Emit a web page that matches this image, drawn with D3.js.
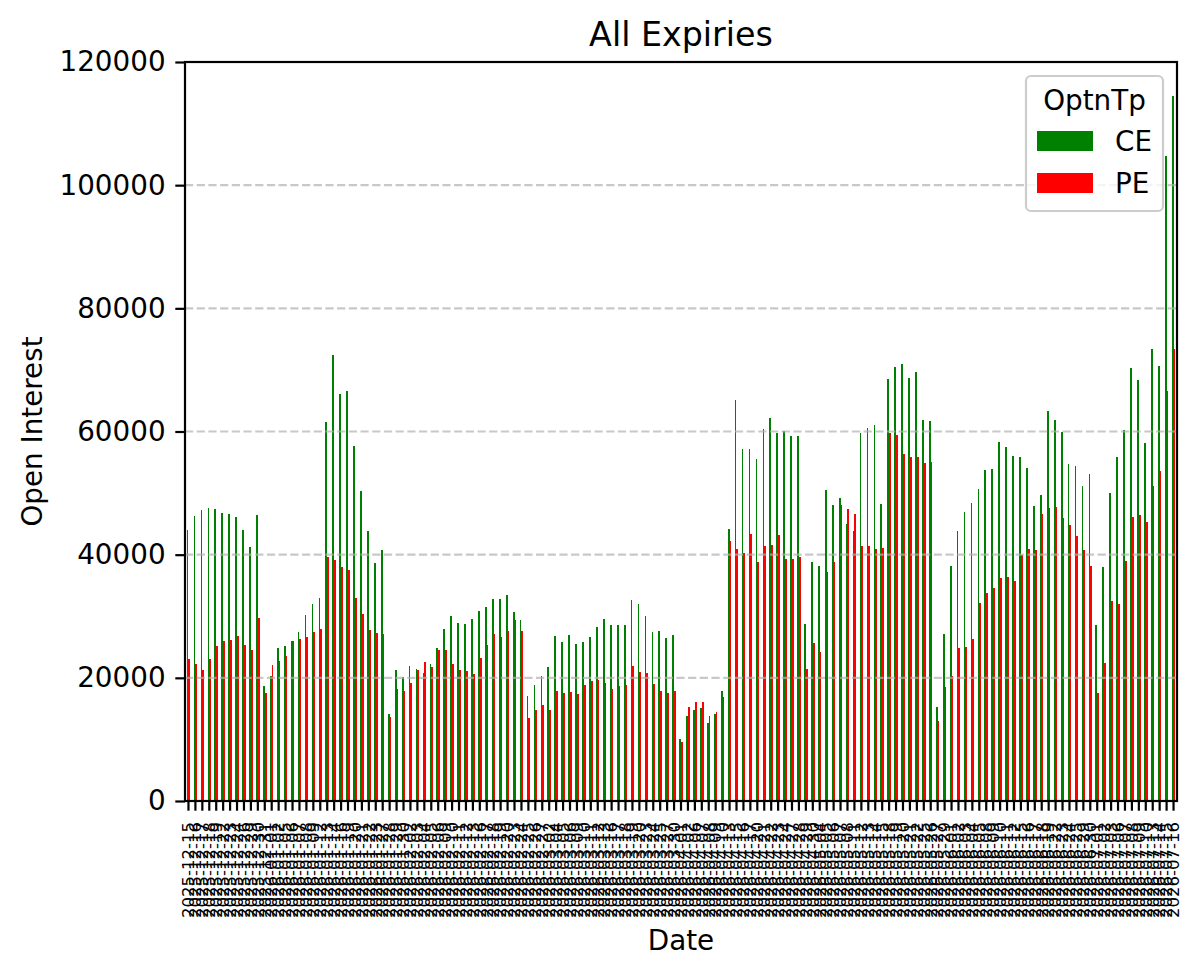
<!DOCTYPE html>
<html><head><meta charset="utf-8">
<script src="https://cdn.jsdelivr.net/npm/d3@7"></script>
<style>
body{margin:0;background:#fff}
svg{display:block}
text{font-family:"DejaVu Sans",sans-serif;fill:#000}
</style>
</head><body>
<svg id="chart" width="1202" height="976"></svg>
<script>
const dates = [
"2025-12-15","2025-12-16","2025-12-17","2025-12-18","2025-12-19","2025-12-22","2025-12-23","2025-12-24","2025-12-26","2025-12-29","2025-12-30","2025-12-31",
"2026-01-01","2026-01-02","2026-01-05","2026-01-06","2026-01-07","2026-01-08","2026-01-09","2026-01-12","2026-01-13","2026-01-14","2026-01-16","2026-01-19","2026-01-20","2026-01-21","2026-01-22","2026-01-23","2026-01-27","2026-01-28","2026-01-29","2026-01-30",
"2026-02-02","2026-02-03","2026-02-04","2026-02-05","2026-02-06","2026-02-09","2026-02-10","2026-02-11","2026-02-12","2026-02-13","2026-02-16","2026-02-17","2026-02-18","2026-02-19","2026-02-20","2026-02-23","2026-02-24","2026-02-25","2026-02-26","2026-02-27",
"2026-03-02","2026-03-04","2026-03-05","2026-03-06","2026-03-09","2026-03-10","2026-03-11","2026-03-12","2026-03-13","2026-03-16","2026-03-17","2026-03-18","2026-03-19","2026-03-20","2026-03-23","2026-03-24","2026-03-25","2026-03-27","2026-03-30",
"2026-04-01","2026-04-02","2026-04-06","2026-04-07","2026-04-08","2026-04-09","2026-04-10","2026-04-13","2026-04-15","2026-04-16","2026-04-17","2026-04-20","2026-04-21","2026-04-22","2026-04-23","2026-04-24","2026-04-27","2026-04-28","2026-04-29","2026-04-30",
"2026-05-04","2026-05-05","2026-05-06","2026-05-07","2026-05-08","2026-05-11","2026-05-12","2026-05-13","2026-05-14","2026-05-15","2026-05-18","2026-05-19","2026-05-20","2026-05-21","2026-05-22","2026-05-25","2026-05-26","2026-05-27","2026-05-29",
"2026-06-01","2026-06-02","2026-06-03","2026-06-04","2026-06-05","2026-06-08","2026-06-09","2026-06-10","2026-06-11","2026-06-12","2026-06-15","2026-06-16","2026-06-17","2026-06-18","2026-06-19","2026-06-22","2026-06-23","2026-06-24","2026-06-25","2026-06-29","2026-06-30",
"2026-07-01","2026-07-02","2026-07-03","2026-07-06","2026-07-07","2026-07-08","2026-07-09","2026-07-10","2026-07-13","2026-07-14","2026-07-15","2026-07-16"
];

const ceValues = [
43930,46210,47180,47510,47350,46700,46530,46050,43930,41170,46370,18740,
20370,24920,25240,26060,27520,30280,32070,33040,61480,72370,66030,66520,57580,50270,43770,38570,40680,14190,21340,20210,
21990,21510,20860,22320,24920,28010,30120,28980,28820,29630,30930,31580,32720,32880,33530,30770,29470,17120,18910,20370,
21830,26870,25890,27030,25570,25890,26710,28330,29630,28660,28660,28660,32560,31910,30120,27520,27680,26540,27030,
10130,13870,14840,15170,12730,14190,17930,44090,65060,57100,57100,55470,60350,62130,59700,60020,59210,59210,28820,38890,
38080,50430,48000,49130,44910,43770,59700,60510,61000,48160,68470,70420,70910,68630,69610,61810,61650,15330,27190,
38240,43770,46900,48310,50650,53760,53920,58350,57420,56020,55780,54150,47930,49710,63330,61930,59980,54690,54380,51190,53060,
28550,37970,50030,55780,60300,70330,68390,58120,73370,70640,104800,114440
];

const peValues = [
23130,22320,21340,23130,25240,26060,26220,26870,25410,24590,29790,17610,
22160,22810,23620,26060,26380,26710,27520,28010,39540,39060,37920,37430,33040,30440,27840,27360,27190,13710,18260,17930,
19230,21340,22640,21830,24590,24590,22320,21340,21180,20690,23290,25410,27190,26710,27680,29310,27680,13540,14840,15660,
14840,17930,17610,17770,17440,18910,19560,19720,19230,18260,18740,18910,21990,21020,20860,19070,17930,17610,17930,
9640,15330,16140,16140,13870,14520,16960,42140,40840,40190,43280,38730,41330,41490,43120,39220,39220,39540,21510,25730,
24270,37110,38890,48000,47350,46530,41330,41330,40840,41010,59700,59370,56280,55800,55800,54820,54980,13060,18580,
20370,24920,24950,26370,32210,33840,34540,36180,36410,35710,39910,40850,40770,46600,47540,47690,45900,44740,43020,40770,38120,
17510,22480,32440,31980,38980,46140,46450,45280,51120,53600,66600,73440
];

const yTicks = [0, 20000, 40000, 60000, 80000, 100000, 120000];
const seriesNames = ["CE", "PE"];
const seriesColors = ["#008000", "#ff0000"];

const svg = d3.select("#chart");
svg.append("rect").attr("width",1202).attr("height",976).attr("fill","#fff");

const L=185, R=1177, T=62, B=801;
const x = d3.scaleBand().domain(dates).range([L,R]).paddingInner(0).paddingOuter(0);
const y = d3.scaleLinear().domain([0,120000]).range([B,T]);
const bw = x.bandwidth();

// bars
const gBars = svg.append("g").attr("shape-rendering","crispEdges");
gBars.selectAll("rect.ce").data(dates).enter().append("rect")
  .attr("x", (d)=> x(d)+bw*0.25).attr("width", bw*0.25)
  .attr("y", (d,i)=> y(ceValues[i])).attr("height", (d,i)=> B - y(ceValues[i]))
  .attr("fill", seriesColors[0]);
gBars.selectAll("rect.pe").data(dates).enter().append("rect")
  .attr("x", (d)=> x(d)+bw*0.5).attr("width", bw*0.25)
  .attr("y", (d,i)=> y(peValues[i])).attr("height", (d,i)=> B - y(peValues[i]))
  .attr("fill", seriesColors[1]);

// grid
svg.append("g").selectAll("line").data(yTicks).enter().append("line")
  .attr("x1",L).attr("x2",R).attr("y1",d=>y(d)).attr("y2",d=>y(d))
  .attr("stroke","#b0b0b0").attr("stroke-opacity",0.7).attr("stroke-width",2.2)
  .attr("stroke-dasharray","8.2,3.5");

// y axis
const yAxis = d3.axisLeft(y).tickValues(yTicks).tickFormat(d3.format("d")).tickSize(9.7).tickPadding(9.7);
const gy = svg.append("g").attr("transform",`translate(${L},0)`).call(yAxis);
gy.select(".domain").remove();
gy.selectAll(".tick line").attr("stroke","#000").attr("stroke-width",2.2);
gy.selectAll(".tick text").style("font-size","27.8px").attr("font-family","DejaVu Sans").attr("fill","#000");

// x axis
const xAxis = d3.axisBottom(x).tickSize(9.7).tickPadding(0);
const gx = svg.append("g").attr("transform",`translate(0,${B})`).call(xAxis);
gx.select(".domain").remove();
gx.selectAll(".tick line").attr("stroke","#000").attr("stroke-width",2.2);
gx.selectAll(".tick text")
  .style("font-size","16.5px").attr("font-family","DejaVu Sans").attr("fill","#000")
  .attr("text-anchor","end").attr("dy","0.35em")
  .attr("transform","translate(0,21) rotate(-90)").attr("y",0).attr("x",0);

// spines
svg.append("rect").attr("x",L).attr("y",T).attr("width",R-L).attr("height",B-T)
  .attr("fill","none").attr("stroke","#000").attr("stroke-width",2.2);

// title & labels
svg.append("text").attr("x",(L+R)/2).attr("y",46).attr("text-anchor","middle")
  .style("font-size","33.3px").text("All Expiries");
svg.append("text").attr("x",(L+R)/2).attr("y",950).attr("text-anchor","middle")
  .style("font-size","27.8px").text("Date");
svg.append("text").attr("transform",`translate(42,${(T+B)/2}) rotate(-90)`).attr("text-anchor","middle")
  .style("font-size","27.8px").text("Open Interest");

// legend
const lg = svg.append("g");
lg.append("rect").attr("x",1026).attr("y",76).attr("width",137).attr("height",135)
  .attr("rx",5).attr("fill","#fff").attr("fill-opacity",0.8).attr("stroke","#cccccc").attr("stroke-width",2.2);
lg.append("text").attr("x",1094.5).attr("y",110).attr("text-anchor","middle").style("font-size","27.8px").text("OptnTp");
seriesNames.forEach((n,i)=>{
  lg.append("rect").attr("x",1037).attr("y",131+i*42).attr("width",56).attr("height",20).attr("fill",seriesColors[i]);
  lg.append("text").attr("x",1115).attr("y",151+i*42).style("font-size","27.8px").text(n);
});
</script>
</body></html>
